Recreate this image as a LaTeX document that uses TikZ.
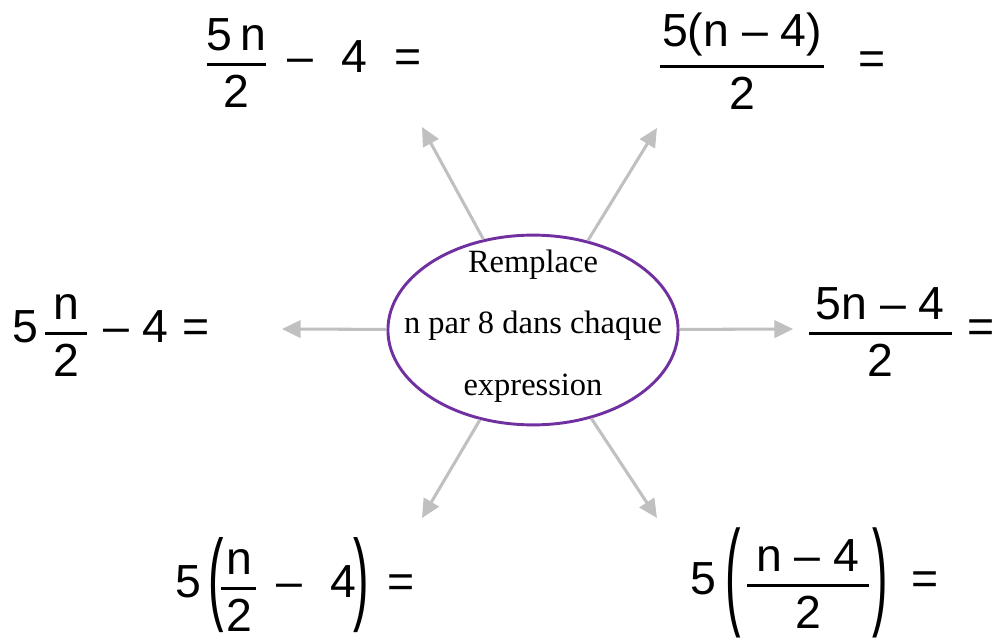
\documentclass[tikz,border=0pt]{standalone}
\usepackage{amsmath}
\usepackage{graphicx}
\usepackage{fontspec}
\setmainfont{Liberation Serif}
\newfontfamily\formfont{Liberation Sans}
\usepackage{xcolor}
\usepackage{tikz}
\usetikzlibrary{arrows.meta, shapes.geometric}
\definecolor{ringpurple}{RGB}{112,48,160}
\definecolor{arrowgray}{RGB}{192,192,192}
\newcommand{\frc}[2]{\genfrac{}{}{2.2pt}{0}{\text{#1}}{\text{#2}}}
\newcommand{\tallpar}[3]{\raisebox{#2}{\scalebox{1}[#1]{#3}}}

\begin{document}
\begin{tikzpicture}[
    x=0.0265cm, y=-0.0265cm,
    hub/.style={ellipse, draw=ringpurple, line width=2.2pt, fill=white, minimum width=7.69cm, minimum height=5.03cm, inner sep=0pt},
    hubtext/.style={align=center, inner sep=0pt, font=\fontsize{24.5}{46.5}\selectfont},
    expr/.style={inner sep=0pt, anchor=base west, font=\formfont\fontsize{35}{40}\selectfont},
    ray/.style={draw=arrowgray, line width=2.3pt, -{Triangle[length=14pt, width=13pt]}}
]
\useasboundingbox[fill=white] (0,0) rectangle (997,639);
\node[hub] (m) at (533,330) {};
\node[hubtext] (mt) at (533,326) {Remplace\\n par 8 dans chaque\\expression};
\node[expr] (a) at (205,73) {$\frc{5\,n}{2}\text{\hspace{0.42em}–\hspace{0.62em}4\hspace{0.58em}=}$};
\node[expr] (b) at (658,75) {$\frc{\hspace{0.05em}5(n – 4)\hspace{0.05em}}{2}\text{\hspace{0.7em}=}$};
\node[expr] (c) at (12,342) {$\text{5\hspace{0.12em}}\frc{\hspace{0.17em}n\hspace{0.17em}}{2}\text{\hspace{0.33em}–\hspace{0.29em}4\hspace{0.3em}=}$};
\node[expr] (d) at (807,342) {$\frc{\hspace{0.15em}5n – 4\hspace{0.15em}}{2}\text{\hspace{0.3em}=}$};
\node[expr] (e) at (175,597) {$\text{5\hspace{0.15em}\tallpar{2.2}{-0.32em}{(}\hspace{-0.08em}}\frc{\hspace{0.1em}n\hspace{0.1em}}{2}\text{\hspace{0.4em}–\hspace{0.6em}4\hspace{-0.05em}\tallpar{2.2}{-0.32em}{)}\hspace{0.4em}=}$};
\node[expr] (f) at (690,594) {$\text{5\hspace{0.2em}\tallpar{2.55}{-0.41em}{(}\hspace{0.1em}}\frc{\hspace{0.2em}n – 4\hspace{0.2em}}{2}\text{\hspace{0.05em}\tallpar{2.55}{-0.41em}{)}\hspace{0.5em}=}$};
% arrow tips
\coordinate (pa) at (422,127);
\coordinate (pb) at (657,128);
\coordinate (pc) at (282,329);
\coordinate (pd) at (793,329);
\coordinate (pe) at (422,518);
\coordinate (pf) at (657,518);
\draw[ray] (m) -- (pa);
\draw[ray] (m) -- (pb);
\draw[ray] (m) -- (pc);
\draw[ray] (m) -- (pd);
\draw[ray] (m) -- (pe);
\draw[ray] (m) -- (pf);
\end{tikzpicture}
\end{document}
